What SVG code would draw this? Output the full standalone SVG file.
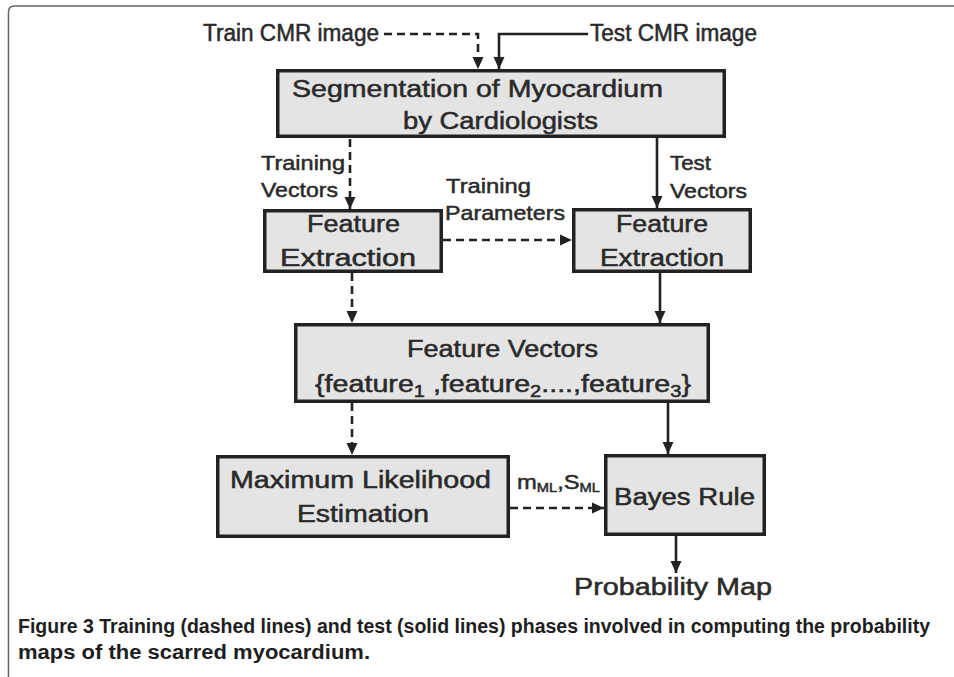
<svg xmlns="http://www.w3.org/2000/svg" width="954" height="677" viewBox="0 0 954 677">
<style>
.box{fill:#e4e4e4;stroke:#222;stroke-width:3.5}
.t{font-family:"Liberation Sans",Arial,sans-serif;fill:#2a2a2a;stroke:#2a2a2a;stroke-width:0.5;font-size:23px}
.lbl{font-family:"Liberation Sans",Arial,sans-serif;fill:#2a2a2a;stroke:#2a2a2a;stroke-width:0.5;font-size:21px}
.cap{font-family:"Liberation Sans",Arial,sans-serif;fill:#1e1e1e;font-size:20px;font-weight:bold}
.c{fill:none;stroke:#222;stroke-width:2.6}
.d{stroke-dasharray:8 5}
</style>
<defs>
<marker id="ah" markerUnits="userSpaceOnUse" markerWidth="14" markerHeight="14" viewBox="0 0 14 14" refX="13" refY="7" orient="auto">
<path d="M1,1.5 L13,7 L1,12.5 Z" fill="#222"/>
</marker>
</defs>
<rect width="954" height="677" fill="#fff"/>
<path d="M8.5,677 V12 Q8.5,6 14.5,6 H954" fill="none" stroke="#666" stroke-width="1.5"/>

<g id="connectors">
<path class="c d" d="M384,34 H478 V69" marker-end="url(#ah)"/>
<path class="c" d="M588,34 H499 V69" marker-end="url(#ah)"/>
<path class="c d" d="M350,139 V209" marker-end="url(#ah)"/>
<path class="c" d="M657,138 V208" marker-end="url(#ah)"/>
<path class="c d" d="M443,240 H572" marker-end="url(#ah)"/>
<path class="c d" d="M352,273 V323" marker-end="url(#ah)"/>
<path class="c" d="M660,273 V323" marker-end="url(#ah)"/>
<path class="c d" d="M352,403 V455" marker-end="url(#ah)"/>
<path class="c" d="M668,403 V454" marker-end="url(#ah)"/>
<path class="c d" d="M510,508 H604" marker-end="url(#ah)"/>
<path class="c" d="M676,536 V573" marker-end="url(#ah)"/>
</g>

<g id="labels">
<text class="t" x="203" y="41" textLength="176" lengthAdjust="spacingAndGlyphs">Train CMR image</text>
<text class="t" x="590" y="41" textLength="167" lengthAdjust="spacingAndGlyphs">Test CMR image</text>
<text class="lbl" x="261" y="170" textLength="84" lengthAdjust="spacingAndGlyphs">Training</text>
<text class="lbl" x="261" y="197" textLength="77" lengthAdjust="spacingAndGlyphs">Vectors</text>
<text class="lbl" x="446" y="193" textLength="85" lengthAdjust="spacingAndGlyphs">Training</text>
<text class="lbl" x="445" y="220" textLength="120" lengthAdjust="spacingAndGlyphs">Parameters</text>
<text class="lbl" x="670" y="170" textLength="41" lengthAdjust="spacingAndGlyphs">Test</text>
<text class="lbl" x="670" y="198" textLength="77" lengthAdjust="spacingAndGlyphs">Vectors</text>
<text class="lbl" x="517" y="489" font-size="20" textLength="83" lengthAdjust="spacingAndGlyphs">m<tspan font-size="13" dy="3">ML</tspan><tspan dy="-3">,S</tspan><tspan font-size="13" dy="3">ML</tspan></text>
<text class="t" x="574" y="595" font-size="24" textLength="198" lengthAdjust="spacingAndGlyphs">Probability Map</text>
</g>

<g id="seg">
<rect class="box" x="277.75" y="70.75" width="446.5" height="65.5"/>
<text class="t" x="292" y="97" font-size="25" textLength="371" lengthAdjust="spacingAndGlyphs">Segmentation of Myocardium</text>
<text class="t" x="403" y="129" font-size="25" textLength="195" lengthAdjust="spacingAndGlyphs">by Cardiologists</text>
</g>

<g id="fe-train">
<rect class="box" x="264.75" y="210.75" width="176.5" height="60.5"/>
<text class="t" x="307" y="232" font-size="24" textLength="93" lengthAdjust="spacingAndGlyphs">Feature</text>
<text class="t" x="280" y="266" font-size="24" textLength="136" lengthAdjust="spacingAndGlyphs">Extraction</text>
</g>

<g id="fe-test">
<rect class="box" x="573.75" y="209.75" width="176.5" height="61.5"/>
<text class="t" x="616" y="232" font-size="24" textLength="92" lengthAdjust="spacingAndGlyphs">Feature</text>
<text class="t" x="600" y="266" font-size="24" textLength="124" lengthAdjust="spacingAndGlyphs">Extraction</text>
</g>

<g id="fv">
<rect class="box" x="295.75" y="324.75" width="412.5" height="76.5"/>
<text class="t" x="407" y="357" font-size="24" textLength="191" lengthAdjust="spacingAndGlyphs">Feature Vectors</text>
<text class="t" x="315" y="392" font-size="25" textLength="376" lengthAdjust="spacingAndGlyphs">{feature<tspan font-size="16" dy="5">1</tspan><tspan dy="-5"> ,feature</tspan><tspan font-size="16" dy="5">2</tspan><tspan dy="-5">....,feature</tspan><tspan font-size="16" dy="5">3</tspan><tspan dy="-5">}</tspan></text>
</g>

<g id="mle">
<rect class="box" x="217.75" y="456.75" width="290.5" height="79.5"/>
<text class="t" x="230" y="488" font-size="24" textLength="261" lengthAdjust="spacingAndGlyphs">Maximum Likelihood</text>
<text class="t" x="297" y="522" font-size="24" textLength="132" lengthAdjust="spacingAndGlyphs">Estimation</text>
</g>

<g id="bayes">
<rect class="box" x="605.75" y="455.75" width="158.5" height="78.5"/>
<text class="t" x="614" y="505" font-size="26" textLength="141" lengthAdjust="spacingAndGlyphs">Bayes Rule</text>
</g>

<g id="caption">
<text class="cap" x="18" y="633" textLength="912" lengthAdjust="spacingAndGlyphs">Figure 3 Training (dashed lines) and test (solid lines) phases involved in computing the probability</text>
<text class="cap" x="18" y="659" textLength="352" lengthAdjust="spacingAndGlyphs">maps of the scarred myocardium.</text>
</g>
</svg>
